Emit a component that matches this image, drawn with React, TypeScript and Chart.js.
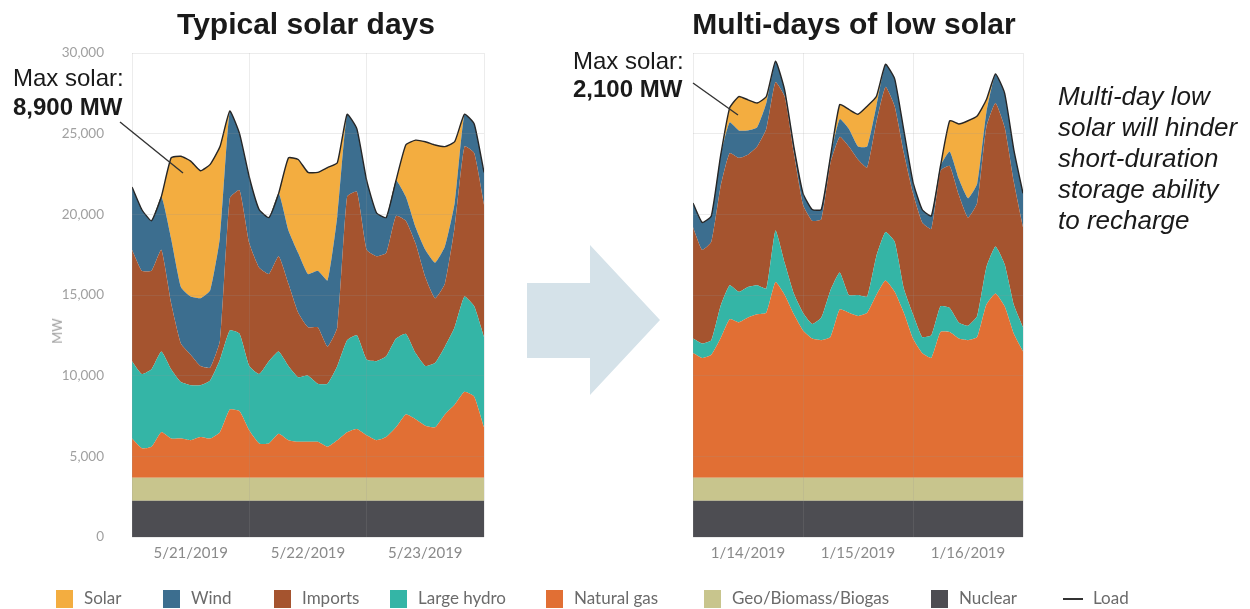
import React, { useEffect, useRef } from 'react';
import { Chart, registerables } from 'chart.js';

Chart.register(...registerables);

// Hours since the first midnight of each 3-day window (2-hour steps)
const hours = [0, 2, 4, 6, 8, 10, 12, 14, 16, 18, 20, 22, 24, 26, 28, 30, 32, 34, 36, 38, 40, 42, 44, 46, 48, 50, 52, 54, 56, 58, 60, 62, 64, 66, 68, 70, 72];

const leftDays = ['5/21/2019', '5/22/2019', '5/23/2019'];
const rightDays = ['1/14/2019', '1/15/2019', '1/16/2019'];
const yTickValues = [0, 5000, 10000, 15000, 20000, 25000, 30000];

const seriesNames = ['Nuclear', 'Geo/Biomass/Biogas', 'Natural gas', 'Large hydro', 'Imports', 'Wind', 'Solar'];
const seriesColors = ['#4d4d52', '#c8c58d', '#e16f34', '#34b5a6', '#a5542f', '#3c6e8f', '#f3ad40'];

// ---- Typical solar days (May 21-23, 2019), MW ----
const leftNuclear = [2250, 2250, 2250, 2250, 2250, 2250, 2250, 2250, 2250, 2250, 2250, 2250, 2250, 2250, 2250, 2250, 2250, 2250, 2250, 2250, 2250, 2250, 2250, 2250, 2250, 2250, 2250, 2250, 2250, 2250, 2250, 2250, 2250, 2250, 2250, 2250, 2250];
const leftGeo = [1430, 1430, 1430, 1430, 1430, 1430, 1430, 1430, 1430, 1430, 1430, 1430, 1430, 1430, 1430, 1430, 1430, 1430, 1430, 1430, 1430, 1430, 1430, 1430, 1430, 1430, 1430, 1430, 1430, 1430, 1430, 1430, 1430, 1430, 1430, 1430, 1430];
const leftGas = [2420, 1820, 1920, 2820, 2420, 2420, 2320, 2520, 2420, 2820, 4220, 4120, 2920, 2120, 2120, 2720, 2320, 2220, 2220, 2220, 1920, 2320, 2820, 3020, 2620, 2320, 2520, 3120, 3920, 3620, 3220, 3120, 3920, 4520, 5320, 5020, 3120];
const leftHydro = [4800, 4600, 4800, 5000, 4300, 3500, 3400, 3200, 3600, 4500, 4900, 4800, 4000, 4300, 5100, 5100, 4600, 4000, 4100, 3600, 3900, 4600, 5700, 5800, 4700, 4900, 5000, 5500, 5000, 4100, 3700, 4000, 4200, 4800, 5900, 5600, 5600];
const leftImports = [6900, 6400, 6100, 6300, 4100, 2400, 1900, 1200, 800, 1200, 8200, 8900, 7600, 6600, 5400, 5900, 5100, 4000, 3000, 3500, 2300, 2400, 8900, 8900, 6800, 6500, 6400, 7600, 7000, 6800, 5500, 4000, 3900, 6200, 9300, 9500, 8200];
const leftWind = [3900, 3800, 3100, 3300, 4000, 3500, 3600, 4200, 4800, 6400, 5400, 3500, 4100, 3600, 3500, 3900, 3300, 3700, 3300, 3500, 4100, 6900, 5100, 3900, 4300, 2700, 2200, 2200, 1500, 1000, 1700, 2200, 2300, 1500, 2000, 1800, 2000];
const leftSolar = [0, 0, 0, 0, 5000, 8100, 8400, 7900, 7800, 5600, 0, 0, 0, 0, 0, 0, 4500, 5800, 6300, 6100, 7000, 3300, 0, 0, 0, 0, 0, 0, 3200, 5400, 6700, 7300, 6200, 3800, 0, 0, 0];

// ---- Multi-days of low solar (Jan 14-16, 2019), MW ----
const rightNuclear = [2250, 2250, 2250, 2250, 2250, 2250, 2250, 2250, 2250, 2250, 2250, 2250, 2250, 2250, 2250, 2250, 2250, 2250, 2250, 2250, 2250, 2250, 2250, 2250, 2250, 2250, 2250, 2250, 2250, 2250, 2250, 2250, 2250, 2250, 2250, 2250, 2250];
const rightGeo = [1430, 1430, 1430, 1430, 1430, 1430, 1430, 1430, 1430, 1430, 1430, 1430, 1430, 1430, 1430, 1430, 1430, 1430, 1430, 1430, 1430, 1430, 1430, 1430, 1430, 1430, 1430, 1430, 1430, 1430, 1430, 1430, 1430, 1430, 1430, 1430, 1430];
const rightGas = [7720, 7420, 7620, 8620, 9820, 9620, 9920, 10120, 10220, 12120, 11320, 10120, 9120, 8620, 8520, 8720, 10420, 10220, 10020, 10220, 11320, 12220, 11520, 10220, 8620, 7720, 7420, 9020, 9020, 8620, 8520, 8720, 10720, 11420, 10620, 8920, 7820];
const rightHydro = [900, 900, 900, 2000, 2100, 1900, 1900, 1800, 1500, 3200, 2000, 1300, 1100, 900, 1400, 2900, 2300, 1100, 1300, 1000, 2400, 3000, 3100, 1500, 1500, 1000, 1400, 1600, 1500, 1000, 900, 1300, 2300, 2900, 2600, 1800, 1500];
const rightImports = [6900, 5800, 6100, 7400, 8200, 8300, 8200, 8600, 9900, 9200, 10300, 8700, 6700, 6400, 6100, 7900, 8400, 9200, 8400, 8000, 8300, 9000, 8400, 8400, 7500, 7100, 6600, 8400, 8800, 7900, 6700, 7000, 8700, 8900, 8500, 7600, 6200];
const rightWind = [1500, 1700, 1600, 1900, 1900, 1700, 1500, 1200, 1600, 1300, 400, 400, 700, 700, 600, 400, 1100, 1100, 800, 1300, 1000, 1400, 1700, 1400, 700, 800, 800, 300, 900, 1000, 1200, 1200, 900, 1800, 2100, 2000, 2100];
const rightSolar = [0, 0, 0, 0, 900, 2100, 1900, 1500, 400, 0, 0, 0, 0, 0, 0, 0, 900, 1200, 2000, 2500, 600, 0, 0, 0, 0, 0, 0, 0, 1900, 3400, 4800, 4200, 800, 0, 0, 0, 0];

const leftSeries = [leftNuclear, leftGeo, leftGas, leftHydro, leftImports, leftWind, leftSolar];
const rightSeries = [rightNuclear, rightGeo, rightGas, rightHydro, rightImports, rightWind, rightSolar];

const legendItems = [
  { label: 'Solar', color: '#f3ad40', x: 56 },
  { label: 'Wind', color: '#3c6e8f', x: 163 },
  { label: 'Imports', color: '#a5542f', x: 274 },
  { label: 'Large hydro', color: '#34b5a6', x: 390 },
  { label: 'Natural gas', color: '#e16f34', x: 546 },
  { label: 'Geo/Biomass/Biogas', color: '#c8c58d', x: 704 },
  { label: 'Nuclear', color: '#4d4d52', x: 931 },
];

const GRID = 'rgba(150,150,150,0.18)';
const AXIS_FONT = 'Lato, "Open Sans", sans-serif';

function StackChart(props: {
  series: number[][];
  days: string[];
  showY: boolean;
  left: number;
  width: number;
  yWidth: number;
  padRight: number;
}) {
  const ref = useRef<HTMLCanvasElement | null>(null);
  useEffect(() => {
    if (!ref.current) return;
    const datasets = props.series.map((vals, i) => ({
      label: seriesNames[i],
      data: vals.map((v, j) => ({ x: hours[j], y: v })),
      backgroundColor: seriesColors[i],
      borderColor: i === 6 ? '#262626' : 'transparent',
      borderWidth: i === 6 ? 1.4 : 0,
      fill: i === 0 ? 'origin' : '-1',
      pointRadius: 0,
      pointHoverRadius: 0,
      tension: 0.15,
    }));
    const chart = new Chart(ref.current, {
      type: 'line',
      data: { datasets },
      options: {
        animation: false,
        responsive: false,
        events: [],
        layout: { padding: { top: 53, right: props.padRight, left: 0, bottom: 0 } },
        plugins: {
          legend: { display: false },
          tooltip: { enabled: false },
          title: { display: false },
          filler: { drawTime: 'beforeDatasetsDraw' },
        },
        scales: {
          x: {
            type: 'linear',
            min: 0,
            max: 72,
            ticks: {
              stepSize: 12,
              autoSkip: false,
              maxRotation: 0,
              padding: 7,
              color: '#8a8a8a',
              font: { family: AXIS_FONT, size: 15 },
              callback: (v: any) => {
                const n = Number(v);
                return n % 24 === 12 ? props.days[(n - 12) / 24] : '';
              },
            },
            grid: {
              drawTicks: false,
              z: 1,
              color: (ctx: any) => (ctx.tick && ctx.tick.value % 24 === 0 ? GRID : 'transparent'),
            },
            border: { display: false },
            afterFit: (s: any) => {
              s.height = 43;
            },
          },
          y: {
            type: 'linear',
            stacked: true,
            min: 0,
            max: 30000,
            afterBuildTicks: (s: any) => {
              s.ticks = yTickValues.map((v) => ({ value: v }));
            },
            ticks: {
              display: props.showY,
              padding: 28,
              color: '#a0a0a0',
              font: { family: AXIS_FONT, size: 13.5 },
              callback: (v: any) => Number(v).toLocaleString('en-US'),
            },
            grid: { drawTicks: false, z: 1, color: GRID },
            border: { display: false },
            afterFit: (s: any) => {
              s.width = props.yWidth;
            },
          },
        },
      } as any,
    });
    return () => chart.destroy();
  }, []);
  return (
    <canvas
      ref={ref}
      width={props.width}
      height={580}
      style={{ position: 'absolute', left: props.left, top: 0, width: props.width, height: 580 }}
    />
  );
}

export default function App() {
  const sans = '"Liberation Sans", Arial, Helvetica, sans-serif';
  const titleStyle: React.CSSProperties = {
    position: 'absolute',
    top: 7,
    width: 500,
    textAlign: 'center',
    fontSize: 30,
    lineHeight: '34px',
    fontWeight: 'bold',
    color: '#1a1a1a',
    whiteSpace: 'nowrap',
  };
  const legendText: React.CSSProperties = {
    position: 'absolute',
    top: 587,
    fontFamily: AXIS_FONT,
    fontSize: 17,
    lineHeight: '21px',
    color: '#6b6b6b',
    whiteSpace: 'nowrap',
  };
  return (
    <div
      style={{
        position: 'fixed',
        left: 0,
        top: 0,
        width: 1250,
        height: 609,
        background: '#ffffff',
        overflow: 'hidden',
        fontFamily: sans,
      }}
    >
      <StackChart series={leftSeries} days={leftDays} showY={true} left={0} width={500} yWidth={132} padRight={16} />
      <StackChart series={rightSeries} days={rightDays} showY={false} left={600} width={440} yWidth={93} padRight={17} />

      {/* Titles */}
      <div style={{ ...titleStyle, left: 306 - 250 }}>Typical solar days</div>
      <div style={{ ...titleStyle, left: 854 - 250 }}>Multi-days of low solar</div>

      {/* Y axis title */}
      <div
        style={{
          position: 'absolute',
          left: 57,
          top: 331,
          transform: 'translate(-50%, -50%) rotate(-90deg)',
          fontFamily: AXIS_FONT,
          fontSize: 13,
          color: '#a0a0a0',
          whiteSpace: 'nowrap',
        }}
      >
        MW
      </div>

      {/* Annotations */}
      <div style={{ position: 'absolute', left: 13, top: 63, fontSize: 24, lineHeight: '29px', color: '#1a1a1a', whiteSpace: 'nowrap' }}>
        <div>Max solar:</div>
        <div style={{ fontWeight: 'bold' }}>8,900 MW</div>
      </div>
      <div style={{ position: 'absolute', left: 573, top: 47, fontSize: 24, lineHeight: '28px', color: '#1a1a1a', whiteSpace: 'nowrap' }}>
        <div>Max solar:</div>
        <div style={{ fontWeight: 'bold' }}>2,100 MW</div>
      </div>

      <svg width={1250} height={609} style={{ position: 'absolute', left: 0, top: 0, pointerEvents: 'none' }}>
        <polygon points="527,283 590,283 590,245 660,320 590,395 590,358 527,358" fill="#d5e2e9" />
        <line x1={120} y1={122} x2={183} y2={173} stroke="#333" strokeWidth={1.4} />
        <line x1={693} y1={83} x2={738} y2={115} stroke="#333" strokeWidth={1.4} />
      </svg>

      {/* Side note */}
      <div
        style={{
          position: 'absolute',
          left: 1058,
          top: 81,
          fontSize: 26,
          lineHeight: '31px',
          fontStyle: 'italic',
          color: '#1a1a1a',
          whiteSpace: 'nowrap',
        }}
      >
        <div>Multi-day low</div>
        <div>solar will hinder</div>
        <div>short-duration</div>
        <div>storage ability</div>
        <div>to recharge</div>
      </div>

      {/* Legend */}
      {legendItems.map((it) => (
        <React.Fragment key={it.label}>
          <div style={{ position: 'absolute', left: it.x, top: 590, width: 17, height: 18, background: it.color }} />
          <div style={{ ...legendText, left: it.x + 28 }}>{it.label}</div>
        </React.Fragment>
      ))}
      <div style={{ position: 'absolute', left: 1063, top: 598, width: 20, height: 2, background: '#333' }} />
      <div style={{ ...legendText, left: 1093 }}>Load</div>
    </div>
  );
}
